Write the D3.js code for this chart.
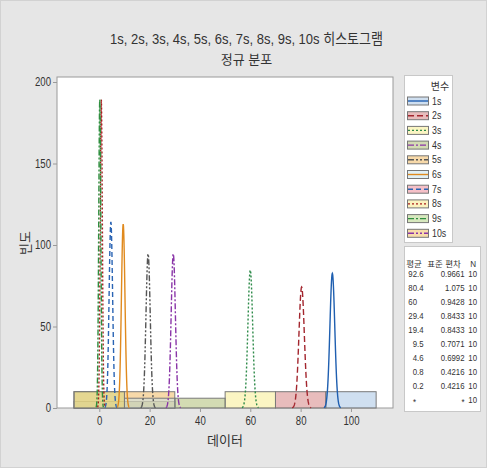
<!DOCTYPE html>
<html><head><meta charset="utf-8">
<script src="https://cdn.jsdelivr.net/npm/d3@7"></script>
<style>
body{margin:0;background:#e6e6e6}
svg{display:block}
text{font-family:"Liberation Sans","Noto Sans CJK KR",sans-serif;fill:#333}
</style>
</head><body>
<svg id="c" width="487" height="468"></svg>
<script>
// ---- data ----
const categories = ["1s","2s","3s","4s","5s","6s","7s","8s","9s","10s"];
const means   = [92.6, 80.4, 60, 29.4, 19.4, 9.5, 4.6, 0.8, 0.2, null];
const stdDevs = [0.9661, 1.075, 0.9428, 0.8433, 0.8433, 0.7071, 0.6992, 0.4216, 0.4216, null];
const nValues = [10, 10, 10, 10, 10, 10, 10, 10, 10, 10];
const binCenters = [0, 20, 40, 60, 80, 100];
const binWidth = 20;
// frequency of each series in each bin
const freq1s  = [0, 0, 0, 0, 0, 10];
const freq2s  = [0, 0, 0, 0, 10, 0];
const freq3s  = [0, 0, 0, 10, 0, 0];
const freq4s  = [0, 4, 6, 0, 0, 0];
const freq5s  = [0, 10, 0, 0, 0, 0];
const freq6s  = [4, 6, 0, 0, 0, 0];
const freq7s  = [10, 0, 0, 0, 0, 0];
const freq8s  = [10, 0, 0, 0, 0, 0];
const freq9s  = [10, 0, 0, 0, 0, 0];
const freq10s = [0, 0, 0, 0, 0, 0];
const xTicks = [0, 20, 40, 60, 80, 100];
const yTicks = [0, 50, 100, 150, 200];
const titleText = "1s, 2s, 3s, 4s, 5s, 6s, 7s, 8s, 9s, 10s 히스토그램";
const subtitleText = "정규 분포";
const xTitle = "데이터";
const yTitle = "빈도";
const legendTitle = "변수";
const statsHeader = ["평균", "표준 편차", "N"];

const freqs = [freq1s,freq2s,freq3s,freq4s,freq5s,freq6s,freq7s,freq8s,freq9s,freq10s];

// ---- styles ----
const fillColors = ["#9fbfe1","#d17979","#f7eb87","#a7b767","#efb353","#c3e1eb","#eb8191","#f7e57f","#afd17d","#f1b955"];
const lineColors = ["#1f5fb0","#a3262e","#2e8b4a","#8a35a8","#555555","#e08a1e","#2a64b4","#a81e1e","#2f8f3f","#8a35a8"];
const dashes = [null,"6,3","2,2","6,2,2,2","6,2,2,2,2,2",null,"5,3","2,2","6,2,2,2","6,2,2,2,2,2"];
const drawOrder = [0,1,2,3,4,5,6,8,7,9];

function condense(sel, f){
  sel.each(function(){
    const w = this.getComputedTextLength();
    if(w>0) d3.select(this).attr("textLength", w*f).attr("lengthAdjust","spacingAndGlyphs");
  });
  return sel;
}

const svg = d3.select("#c");
svg.append("rect").attr("x",0.5).attr("y",0.5).attr("width",486).attr("height",467)
  .attr("fill","#e6e6e6").attr("stroke","#d2d2d2");

const L=57, R=393, T=77, B=408;
const x = d3.scaleLinear().domain([-16.8,116.7]).range([L,R]);
const y = d3.scaleLinear().domain([0,200]).range([B,82]);

// plot area
svg.append("rect").attr("x",L).attr("y",T).attr("width",R-L).attr("height",B-T)
  .attr("fill","#fff").attr("stroke","#9a9a9a");

// titles
svg.append("text").attr("x",246.5).attr("y",44).attr("text-anchor","middle")
  .attr("font-size",15).attr("textLength",273).attr("lengthAdjust","spacingAndGlyphs").text(titleText);
svg.append("text").attr("x",246.5).attr("y",64).attr("text-anchor","middle")
  .attr("font-size",13).text(subtitleText);

// bars
const gBars = svg.append("g");
drawOrder.forEach(si=>{
  freqs[si].forEach((f,bi)=>{
    if(!f) return;
    const c = binCenters[bi];
    gBars.append("rect")
      .attr("x",x(c-binWidth/2)).attr("width",x(c+binWidth/2)-x(c-binWidth/2))
      .attr("y",y(f)).attr("height",y(0)-y(f))
      .attr("fill",fillColors[si]).attr("fill-opacity",0.5)
      .attr("stroke","#7a7a7a").attr("stroke-width",1);
  });
});

// normal curves
const line = d3.line().x(d=>x(d[0])).y(d=>y(d[1]));
categories.forEach((c,si)=>{
  const m = means[si], s = stdDevs[si];
  if(m==null) return;
  const k = nValues[si]*binWidth/(s*Math.sqrt(2*Math.PI));
  const pts = d3.range(81).map(i=>{
    const xv = m-3.5*s + i*7*s/80;
    return [xv, k*Math.exp(-0.5*((xv-m)/s)**2)];
  });
  svg.append("path").datum(pts).attr("d",line).attr("fill","none")
    .attr("stroke",lineColors[si]).attr("stroke-width",1.4)
    .attr("stroke-dasharray",dashes[si]);
});

// axes
const ax = svg.append("g").attr("transform",`translate(0,${B})`)
  .call(d3.axisBottom(x).tickValues(xTicks).tickSize(4).tickPadding(4));
const ay = svg.append("g").attr("transform",`translate(${L},0)`)
  .call(d3.axisLeft(y).tickValues(yTicks).tickSize(4).tickPadding(2));
[ax,ay].forEach(a=>{
  a.select(".domain").remove();
  a.selectAll("line").attr("stroke","#9a9a9a");
  a.selectAll("text").attr("font-size",12).attr("fill","#444").style("font-family",null);
  condense(a.selectAll("text"),0.8);
});
svg.append("text").attr("x",(L+R)/2).attr("y",445).attr("text-anchor","middle")
  .attr("font-size",13).text(xTitle);
svg.append("text").attr("transform","translate(30,243) rotate(-90)").attr("text-anchor","middle")
  .attr("font-size",13).text(yTitle);

// legend
svg.append("rect").attr("x",404.5).attr("y",75.5).attr("width",48).attr("height",167)
  .attr("fill","#fff").attr("stroke","#c8c8c8");
svg.append("text").attr("x",440).attr("y",90).attr("text-anchor","middle").attr("font-size",10).text(legendTitle);
categories.forEach((c,i)=>{
  const cy = 101 + i*14.7;
  svg.append("rect").attr("x",407.5).attr("y",cy-4).attr("width",21).attr("height",8)
    .attr("fill",fillColors[i]).attr("fill-opacity",0.5).attr("stroke","#777");
  svg.append("line").attr("x1",408).attr("x2",428).attr("y1",cy).attr("y2",cy)
    .attr("stroke",lineColors[i]).attr("stroke-width",1.4).attr("stroke-dasharray",dashes[i]);
  condense(svg.append("text").attr("x",432).attr("y",cy+3.5).attr("font-size",11).text(c),0.8);
});

// stats table
svg.append("rect").attr("x",404.5).attr("y",246.5).attr("width",76).attr("height",165)
  .attr("fill","#fff").attr("stroke","#c8c8c8");
const fs = 9.5, cf = 0.82;
const hdr = 267;
svg.append("text").attr("x",414).attr("y",hdr).attr("text-anchor","middle").attr("font-size",8.5).text(statsHeader[0]);
svg.append("text").attr("x",444).attr("y",hdr).attr("text-anchor","middle").attr("font-size",8.5).text(statsHeader[1]);
condense(svg.append("text").attr("x",476).attr("y",hdr).attr("text-anchor","end").attr("font-size",fs).text(statsHeader[2]),0.85);
const xDec = 417;
const num = (xp, yp, anchor, t) => condense(svg.append("text").attr("x",xp).attr("y",yp)
  .attr("text-anchor",anchor).attr("font-size",fs).text(t), cf);
categories.forEach((c,i)=>{
  const cy = 276.5 + i*14.05;
  const m = means[i];
  if(m==null){
    num(xDec-1, cy+2, "end", "*");
  } else {
    const str = String(m);
    const intLen = str.split(".")[0].length;
    const t = svg.append("text").attr("x",0).attr("y",cy).attr("font-size",fs).text(str);
    const node = t.node();
    const intW = node.getSubStringLength(0,intLen);
    const w = node.getComputedTextLength();
    t.attr("x", xDec - intW*cf).attr("textLength", w*cf).attr("lengthAdjust","spacingAndGlyphs");
  }
  const s = stdDevs[i];
  num(464.5, cy+(s==null?2:0), "end", s==null?"*":String(s));
  num(477, cy, "end", String(nValues[i]));
});
</script>
</body></html>
